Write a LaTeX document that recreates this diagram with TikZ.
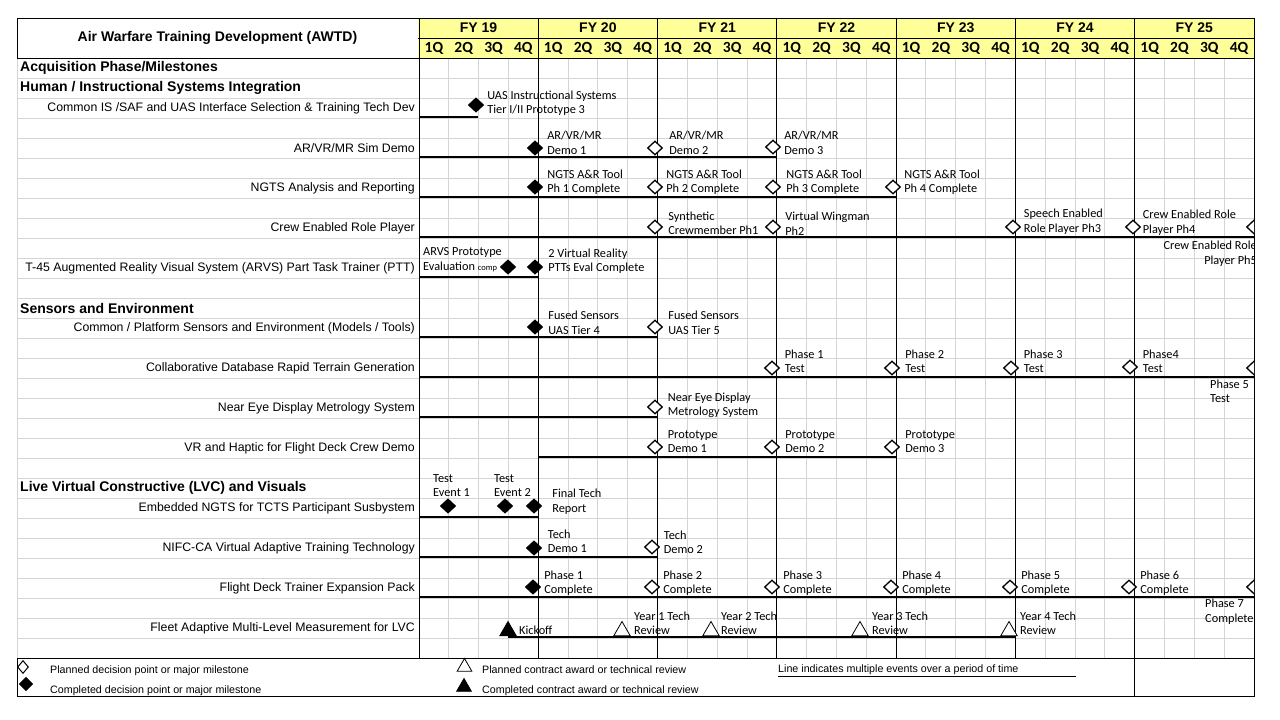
\documentclass[tikz,border=0pt]{standalone}
\usepackage{fontspec}
\setmainfont{Liberation Sans}
\newfontfamily\calibri{Carlito}
\usetikzlibrary{shapes.geometric, positioning}
\definecolor{headyellow}{HTML}{FFFF99}
\definecolor{gridgray}{HTML}{D4D4D4}

\begin{document}
\begin{tikzpicture}[
  x=1pt, y=-1pt,
  gridline/.style={draw=gridgray, line width=1pt},
  fyline/.style={draw=black, line width=1pt},
  bar/.style={draw=black, line width=2pt},
  planned/.style={
    diamond, draw=black, fill=white, line width=1.3pt,
    minimum width=15pt, minimum height=14pt, inner sep=0pt
  },
  done/.style={planned, fill=black},
  review/.style={
    regular polygon, regular polygon sides=3, draw=black, fill=white,
    line width=0.8pt, minimum size=19pt, inner sep=0pt
  },
  reviewdone/.style={review, fill=black},
  note/.style={font=\calibri\fontsize{12.3}{14.5}\selectfont, align=left, inner sep=0pt},
  rowlabel/.style={anchor=east, inner sep=0pt, font=\fontsize{12.3}{14}\selectfont},
  sectionlabel/.style={anchor=west, inner sep=0pt, font=\bfseries\fontsize{14}{16}\selectfont},
  fyhead/.style={font=\bfseries\fontsize{14}{16}\selectfont, inner sep=0pt},
  qhead/.style={font=\calibri\bfseries\fontsize{15.5}{17}\selectfont, inner sep=0pt},
  legendtext/.style={anchor=west, inner sep=0pt, font=\fontsize{10.7}{12}\selectfont}
]
\useasboundingbox[fill=white] (0,0) rectangle (1280,720);

% Header
\fill[headyellow] (418,18) rectangle (1254,58);
\node[font=\bfseries\fontsize{14}{16}\selectfont] (title) at (217.5,38)
      {Air Warfare Training Development (AWTD)};

% Grid
\foreach \r in {1,...,29}
  \draw[gridline] (17,{58+20*\r}) -- (1254,{58+20*\r});
\foreach \q in {1,...,27}
  \draw[gridline] ({419+29.82*\q},58) -- ({419+29.82*\q},658);
\draw[gridline] (17,58) -- (17,658);
\foreach \i in {0,...,6}
  \draw[fyline] ({419+119.29*\i},18) -- ({419+119.29*\i},658);
\draw[fyline] (1134.7,658) -- (1134.7,696);
\draw[fyline] (17,18) -- (1254,18) -- (1254,696) -- (17,696) -- (17,658);
\draw[fyline] (17,18) -- (17,58);
\draw[fyline] (418,38) -- (1254,38);
\draw[fyline] (17,58) -- (1254,58);
\draw[fyline] (17,658) -- (1254,658);

\foreach \fy [count=\i from 0] in {19,...,25}{
  \node[fyhead] (fy\fy) at ({478.6+119.29*\i},28) {FY \fy};
  \foreach \q in {1,...,4}
    \node[qhead] (q\fy-\q) at ({419+119.29*\i+29.82*(\q-0.5)},48) {\q Q};
}

% Row labels
\node[sectionlabel] (acq) at (20,68) {Acquisition Phase/Milestones};
\node[sectionlabel] (hsi) at (20,88) {Human / Instructional Systems Integration};
\node[rowlabel] (isdev) at (415,108) {Common IS /SAF and UAS Interface Selection \& Training Tech Dev};
\node[rowlabel] (simdemo) at (415,148) {AR/VR/MR Sim Demo};
\node[rowlabel] (ngts) at (415,188) {NGTS Analysis and Reporting};
\node[rowlabel] (crew) at (415,228) {Crew Enabled Role Player};
\node[rowlabel] (arvs) at (415,268) {T-45 Augmented Reality Visual System (ARVS) Part Task Trainer (PTT)};
\node[sectionlabel] (sens) at (20,308) {Sensors and Environment};
\node[rowlabel] (models) at (415,328) {Common / Platform Sensors and Environment (Models / Tools)};
\node[rowlabel] (terrain) at (415,368) {Collaborative Database Rapid Terrain Generation};
\node[rowlabel] (neareye) at (415,408) {Near Eye Display Metrology System};
\node[rowlabel] (haptic) at (415,448) {VR and Haptic for Flight Deck Crew Demo};
\node[sectionlabel] (lvc) at (20,488) {Live Virtual Constructive (LVC) and Visuals};
\node[rowlabel] (tcts) at (415,508) {Embedded NGTS for TCTS Participant Susbystem};
\node[rowlabel] (nifc) at (415,548) {NIFC-CA Virtual Adaptive Training Technology};
\node[rowlabel] (fdt) at (415,588) {Flight Deck Trainer Expansion Pack};
\node[rowlabel] (fleet) at (415,628) {Fleet Adaptive Multi-Level Measurement for LVC};

% Period lines
\foreach \y/\a/\b in {117/419/478, 157/419/777, 197/419/896, 237/419/1254,
                      277/419/538, 337/419/657, 377/419/1254, 417/419/657,
                      457/538/896, 517/419/538, 557/419/657, 597/419/1254,
                      637/508/1016}
  \draw[bar] (\a,\y) -- (\b,\y);

\begin{scope}
\clip (0,0) rectangle (1254,720);

% Human / Instructional Systems Integration
\node[done] (uas3) at (476,105) {};
\node[note, right=3pt of uas3, yshift=2pt] (uas3txt) {UAS Instructional Systems\\Tier I/II Prototype 3};

\node[done] (sim1) at (535,148) {};
\node[planned] (sim2) at (655,148) {};
\node[planned] (sim3) at (773,147) {};
\node[note, right=4pt of sim1, yshift=5pt] (sim1txt) {AR/VR/MR\\Demo 1};
\node[note, right=6pt of sim2, yshift=5pt] (sim2txt) {AR/VR/MR\\Demo 2};
\node[note, right=3pt of sim3, yshift=4pt] (sim3txt) {AR/VR/MR\\Demo 3};

\node[done] (ngts1) at (535,187) {};
\node[planned] (ngts2) at (655,187) {};
\node[planned] (ngts3) at (773,187) {};
\node[planned] (ngts4) at (893,187) {};
\node[note, right=4pt of ngts1, yshift=5pt] (ngts1txt) {NGTS A\&R Tool\\Ph 1 Complete};
\node[note, right=3pt of ngts2, yshift=5pt] (ngts2txt) {NGTS A\&R Tool\\Ph 2 Complete};
\node[note, right=5pt of ngts3, yshift=5pt] (ngts3txt) {NGTS A\&R Tool\\Ph 3 Complete};
\node[note, right=3pt of ngts4, yshift=5pt] (ngts4txt) {NGTS A\&R Tool\\Ph 4 Complete};

\node[planned] (crew1) at (655,227) {};
\node[planned] (crew2) at (773,227) {};
\node[planned] (crew3) at (1013,227) {};
\node[planned] (crew4) at (1133,227) {};
\node[planned] (crew5) at (1254,227) {};
\node[note, right=5pt of crew1, yshift=3.5pt] (crew1txt) {Synthetic\\Crewmember Ph1};
\node[note, right=4pt of crew2, yshift=3.5pt] (crew2txt) {Virtual Wingman\\Ph2};
\node[note, right=2.5pt of crew3, yshift=5.5pt] (crew3txt) {Speech Enabled\\Role Player Ph3};
\node[note, right=1.5pt of crew4, yshift=4.5pt] (crew4txt) {Crew Enabled Role\\Player Ph4};
\node[note, anchor=east, align=right] (crew5txt) at (1257,253.5) {Crew Enabled Role\\Player Ph5};

\node[note, anchor=west] (arvs1txt) at (423,259.5)
      {ARVS Prototype\\Evaluation {\fontsize{8.5}{9}\selectfont comp}};
\node[done] (arvs1) at (508,267) {};
\node[done] (arvs2) at (535,267) {};
\node[note, right=5pt of arvs2, yshift=6pt] (arvs2txt) {2 Virtual Reality\\PTTs Eval Complete};

% Sensors and Environment
\node[done] (fused4) at (535,327) {};
\node[planned] (fused5) at (655,327) {};
\node[note, right=5pt of fused4, yshift=4pt] (fused4txt) {Fused Sensors\\UAS Tier 4};
\node[note, right=5pt of fused5, yshift=4pt] (fused5txt) {Fused Sensors\\UAS Tier 5};

\node[planned] (ter1) at (772,368) {};
\node[planned] (ter2) at (892,368) {};
\node[planned] (ter3) at (1011,368) {};
\node[planned] (ter4) at (1130,367) {};
\node[planned] (ter5) at (1254,368) {};
\node[note, right=4.5pt of ter1, yshift=6.5pt] (ter1txt) {Phase 1\\Test};
\node[note, right=5pt of ter2, yshift=6.5pt] (ter2txt) {Phase 2\\Test};
\node[note, right=4.5pt of ter3, yshift=6.5pt] (ter3txt) {Phase 3\\Test};
\node[note, right=4.5pt of ter4, yshift=5.5pt] (ter4txt) {Phase4\\Test};
\node[note, anchor=west] (ter5txt) at (1210,391.5) {Phase 5\\Test};

\node[planned] (ned) at (655,407) {};
\node[note, right=4.5pt of ned, yshift=1.5pt] (nedtxt) {Near Eye Display\\Metrology System};

\node[planned] (proto1) at (655,447) {};
\node[planned] (proto2) at (772,447) {};
\node[planned] (proto3) at (892,447) {};
\node[note, right=4.5pt of proto1, yshift=5.5pt] (proto1txt) {Prototype\\Demo 1};
\node[note, right=5pt of proto2, yshift=5.5pt] (proto2txt) {Prototype\\Demo 2};
\node[note, right=5pt of proto3, yshift=5.5pt] (proto3txt) {Prototype\\Demo 3};

% Live Virtual Constructive
\node[note, anchor=west] (ev1txt) at (433,485.5) {Test\\Event 1};
\node[note, anchor=west] (ev2txt) at (494,485.5) {Test\\Event 2};
\node[done] (ev1) at (448,506) {};
\node[done] (ev2) at (505,506) {};
\node[done] (rep) at (534,506) {};
\node[note, right=10pt of rep, yshift=4.5pt] (reptxt) {Final Tech\\Report};

\node[done] (demo1) at (534,548) {};
\node[planned] (demo2) at (652,547) {};
\node[note, right=5.5pt of demo1, yshift=6.5pt] (demo1txt) {Tech\\Demo 1};
\node[note, right=3.5pt of demo2, yshift=4.5pt] (demo2txt) {Tech\\Demo 2};

\node[done] (ph1) at (533,587) {};
\node[planned] (ph2) at (652,587) {};
\node[planned] (ph3) at (772,587) {};
\node[planned] (ph4) at (891,587) {};
\node[planned] (ph5) at (1010,587) {};
\node[planned] (ph6) at (1129,587) {};
\node[planned] (ph7) at (1254,587) {};
\node[note, right=3pt of ph1, yshift=4pt] (ph1txt) {Phase 1\\Complete};
\node[note, right=3pt of ph2, yshift=4pt] (ph2txt) {Phase 2\\Complete};
\node[note, right=3pt of ph3, yshift=4pt] (ph3txt) {Phase 3\\Complete};
\node[note, right=3pt of ph4, yshift=4pt] (ph4txt) {Phase 4\\Complete};
\node[note, right=3pt of ph5, yshift=4pt] (ph5txt) {Phase 5\\Complete};
\node[note, right=3pt of ph6, yshift=4pt] (ph6txt) {Phase 6\\Complete};
\node[note, anchor=west] (ph7txt) at (1205,611.5) {Phase 7\\Complete};

\node[reviewdone] (kick) at (508,631) {};
\node[review] (rev1) at (622,631) {};
\node[review] (rev2) at (711,631) {};
\node[review] (rev3) at (860,631) {};
\node[review] (rev4) at (1009,631) {};
\node[note, right=5pt of kick, yshift=1pt] (kicktxt) {Kickoff};
\node[note, right=6pt of rev1, yshift=7.5pt] (rev1txt) {Year 1 Tech\\Review};
\node[note, right=4pt of rev2, yshift=7.5pt] (rev2txt) {Year 2 Tech\\Review};
\node[note, right=6pt of rev3, yshift=7.5pt] (rev3txt) {Year 3 Tech\\Review};
\node[note, right=5pt of rev4, yshift=7.5pt] (rev4txt) {Year 4 Tech\\Review};
\end{scope}

% Legend
\node[planned, line width=1pt, minimum width=11pt, minimum height=13pt] (lgplan) at (23,667) {};
\node[done, minimum width=13pt, minimum height=13pt] (lgdone) at (26,684) {};
\node[legendtext] (lgplantxt) at (50,671) {Planned decision point or major milestone};
\node[legendtext] (lgdonetxt) at (50,691) {Completed decision point or major milestone};
\node[review, minimum size=17pt] (lgrev) at (464.5,667) {};
\node[reviewdone, minimum size=17pt] (lgrevdone) at (464,687) {};
\node[legendtext] (lgrevtxt) at (482,670) {Planned contract award or technical review};
\node[legendtext] (lgrevdonetxt) at (482,691) {Completed contract award or technical review};
\node[legendtext] (lgline) at (778,670) {Line indicates multiple events over a period of time};
\draw[line width=1.2pt] ([yshift=-1.5pt]lgline.south west) -- ++(298,0);

\end{tikzpicture}
\end{document}
